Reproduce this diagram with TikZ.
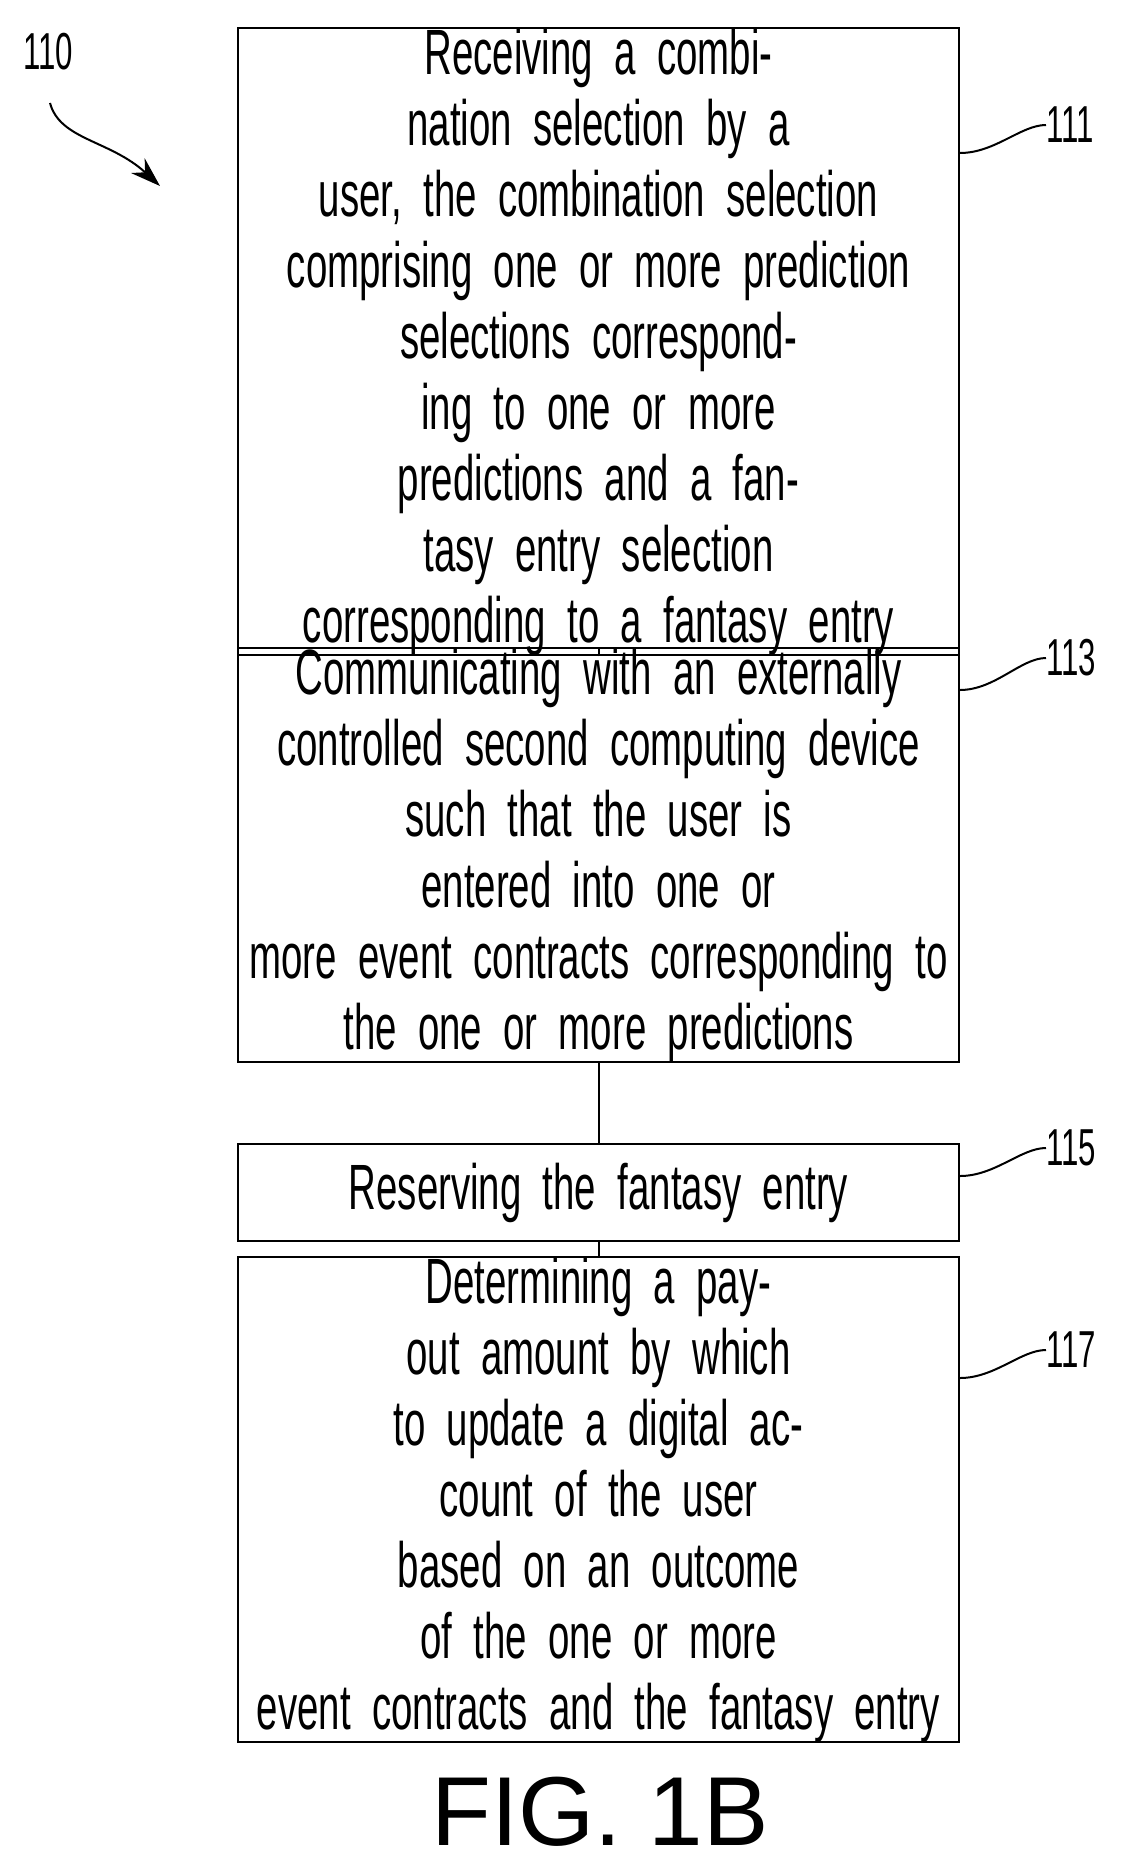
\documentclass[tikz,border=0pt]{standalone}
\usepackage{fontspec}
\setmainfont{Liberation Sans}
\newfontfamily\narrowf[FakeStretch=0.6]{Liberation Sans}
\usetikzlibrary{arrows.meta}
\begin{document}
\begin{tikzpicture}[x=1pt,y=-1pt,
  box/.style={draw,line width=2pt,minimum width=721pt,text width=700pt,inner sep=0pt,align=center,font=\narrowf\fontsize{64}{71}\selectfont},
  lbl/.style={font=\narrowf\fontsize{52}{52}\selectfont,anchor=west,inner sep=0pt},
  lead/.style={line width=2pt}]
\useasboundingbox (0,0) rectangle (1120,1865);
\node[box,minimum height=461pt] (b1) at (598.5,341.5) {Receiving a combination selection by a\\user, the combination selection\\comprising one or more prediction\\selections corresponding to one or more\\predictions and a fantasy entry selection\\corresponding to a fantasy entry};
\node[box,minimum height=394pt] (b2) at (598.5,855) {Communicating with an externally\\controlled second computing device\\such that the user is entered into one or\\more event contracts corresponding to\\the one or more predictions};
\node[box,minimum height=97pt] (b3) at (598.5,1192.5) {Reserving the fantasy entry};
\node[box,minimum height=321pt] (b4) at (598.5,1499.5) {Determining a payout amount by which\\to update a digital account of the user\\based on an outcome of the one or more\\event contracts and the fantasy entry};
\draw[lead] (b1) -- (b2);
\draw[lead] (b2) -- (b3);
\draw[lead] (b3) -- (b4);
\node[lbl] (l1) at (1046,125) {111};
\node[lbl] (l2) at (1046,658) {113};
\node[lbl] (l3) at (1046,1148) {115};
\node[lbl] (l4) at (1046,1350) {117};
\foreach \b/\l/\y in {b1/l1/153,b2/l2/690,b3/l3/1176,b4/l4/1378}{
  \draw[lead] (\b.east |- 0,\y) .. controls +(35,0) and +(-25,0) .. (\l.west);
}
\node[font=\narrowf\fontsize{52}{52}\selectfont,inner sep=0pt] (l0) at (48,52) {110};
\coordinate (a0) at (50,103);
\draw[lead,-{Stealth[length=30pt,width=20pt]}] (a0) .. controls (60,140) and (110,140) .. (160,186);
\node[font=\fontsize{98}{98}\selectfont,inner sep=0pt] (fig) at (600,1812) {FIG. 1B};
\end{tikzpicture}
\end{document}
